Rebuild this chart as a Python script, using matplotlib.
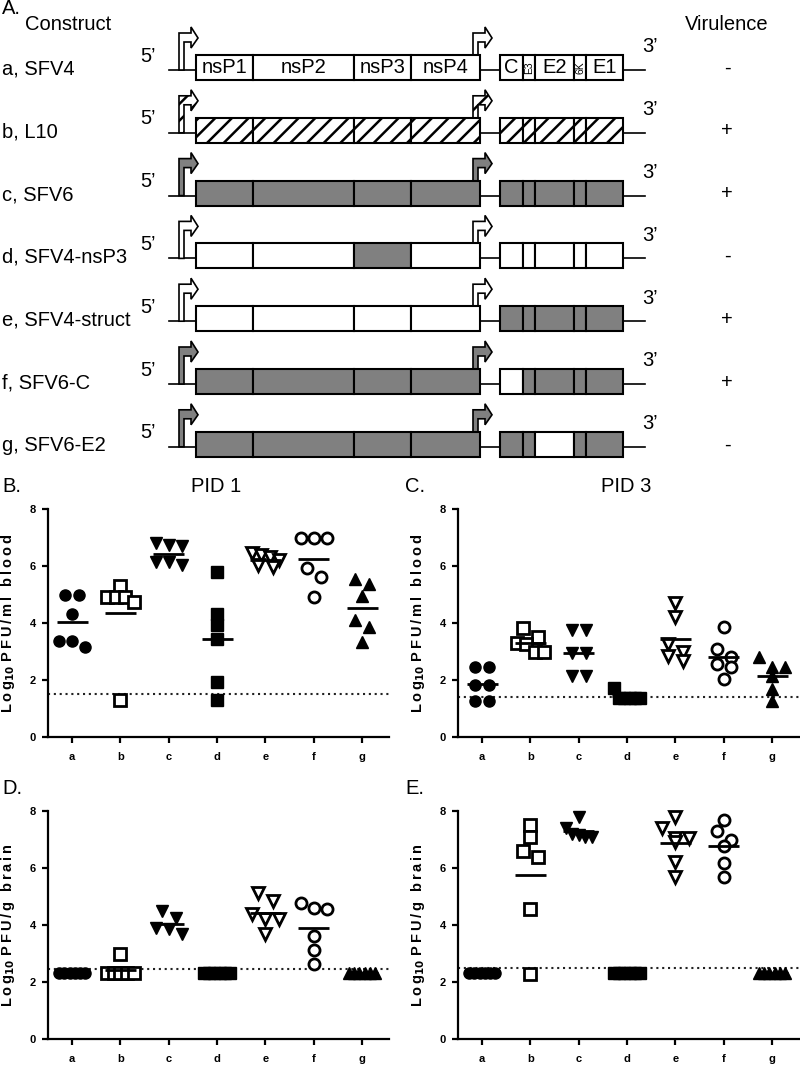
import numpy as np
import matplotlib.pyplot as plt
from matplotlib.patches import Rectangle, Polygon

plt.rcParams['font.family'] = ['Liberation Sans', 'DejaVu Sans']
plt.rcParams['hatch.linewidth'] = 1.8

# ---------------- panel A: construct schematics ----------------
constructs = ['a, SFV4', 'b, L10', 'c, SFV6', 'd, SFV4-nsP3',
              'e, SFV4-struct', 'f, SFV6-C', 'g, SFV6-E2']
virulence = ['-', '+', '+', '-', '+', '+', '-']
ns_genes = ['nsP1', 'nsP2', 'nsP3', 'nsP4']
ns_len = [57, 101, 57, 69]
st_genes = ['C', 'E3', 'E2', '6K', 'E1']
st_len = [23, 12, 39, 12, 37]
# per construct: nsP1-4, C, E3, E2, 6K, E1, 5' promoter, subgenomic promoter
# w = SFV4 (white), g = SFV6 (grey), h = L10 (hatched)
fills = ['wwwwwwwwwww', 'hhhhhhhhhhh', 'ggggggggggg', 'wwgwwwwwwww',
         'wwwwgggggww', 'ggggwgggggg', 'ggggggwgggg']

# ---------------- panels B-E: titres ----------------
groups = ['a', 'b', 'c', 'd', 'e', 'f', 'g']
markers = ['o', 's', 'v', 's', 'v', 'o', '^']
filled = [True, False, True, True, False, False, True]

blood_pid1 = [[4.98, 4.98, 4.33, 3.36, 3.36, 3.15],
              [5.3, 4.9, 4.9, 4.9, 4.75, 1.3],
              [6.8, 6.75, 6.7, 6.15, 6.15, 6.05],
              [5.78, 4.3, 3.92, 3.44, 1.93, 1.31],
              [6.45, 6.4, 6.3, 6.2, 6.05, 5.95],
              [7.0, 7.0, 7.0, 5.93, 5.6, 4.92],
              [5.54, 5.37, 4.95, 4.12, 3.86, 3.33]]
blood_pid3 = [[2.44, 2.44, 1.82, 1.82, 1.28, 1.28],
              [3.83, 3.5, 3.3, 3.25, 3.0, 3.0],
              [3.75, 3.75, 2.93, 2.93, 2.15, 2.15],
              [1.73, 1.38, 1.38, 1.38, 1.38, 1.38],
              [4.7, 4.2, 3.25, 3.0, 2.85, 2.65],
              [3.86, 3.09, 2.82, 2.56, 2.46, 2.02],
              [2.82, 2.46, 2.46, 2.14, 1.67, 1.28]]
brain_pid1 = [[2.3] * 6,
              [3.0, 2.3, 2.3, 2.3, 2.3, 2.3],
              [4.5, 4.25, 3.9, 3.85, 3.7],
              [2.3] * 6,
              [5.13, 4.85, 4.4, 4.2, 4.2, 3.7],
              [4.78, 4.58, 4.56, 3.61, 3.14, 2.63],
              [2.3] * 6]
brain_pid3 = [[2.3] * 6,
              [7.5, 7.1, 6.58, 6.4, 4.56, 2.29],
              [7.8, 7.4, 7.2, 7.15, 7.1, 7.1],
              [2.3] * 6,
              [7.8, 7.4, 7.05, 7.05, 6.9, 6.2, 5.7],
              [7.7, 7.29, 6.99, 6.78, 6.16, 5.69],
              [2.3] * 6]
lod = [1.5, 1.4, 2.45, 2.5]

W, H = 800, 1066
fig = plt.figure(figsize=(W / 100, H / 100), dpi=100)
top = fig.add_axes([0, 0, 1, 1])
top.set_xlim(0, W)
top.set_ylim(H, 0)
top.axis('off')

face = {'w': 'white', 'g': '#808080', 'h': 'white'}
FS = 14.5


def promoter(x0, y, code, z):
    pts = [(x0, y), (x0, y - 37), (x0 + 12, y - 37), (x0 + 12, y - 43),
           (x0 + 19, y - 32), (x0 + 12, y - 22), (x0 + 12, y - 28),
           (x0 + 5, y - 28), (x0 + 5, y)]
    top.add_patch(Polygon(pts, closed=True, fc=face[code], ec='black', lw=1.2,
                          hatch='//' if code == 'h' else None, zorder=z))


x_ns, x_st = 196, 500
for i, name in enumerate(constructs):
    y = 70 + i * 62.8
    f = fills[i]
    top.plot([169, 645], [y, y], color='black', lw=1.2, zorder=1)
    promoter(179, y, f[9], 3)
    promoter(473, y, f[10], 1.5)
    segs = list(zip(ns_genes, ns_len, f[:4], [x_ns] * 4)) + \
        list(zip(st_genes, st_len, f[4:9], [x_st] * 5))
    pos = {x_ns: x_ns, x_st: x_st}
    for g, ln, c, start in segs:
        x = pos[start]
        top.add_patch(Rectangle((x, y - 15), ln, 25, fc=face[c], ec='black',
                                lw=1.5, hatch='//' if c == 'h' else None, zorder=2))
        if i == 0:
            small = g in ('E3', '6K')
            top.text(x + ln / 2 + (0.5 if small else 0), y - 2.5, g,
                     ha='center', va='center',
                     fontsize=7.5 if small else FS,
                     rotation=90 if small else 0, zorder=4)
        pos[start] = x + ln
    top.text(2, y - 1, name, ha='left', va='center', fontsize=FS)
    top.text(148, y - 14, "5\u2019", ha='center', va='center', fontsize=FS)
    top.text(650, y - 23, "3\u2019", ha='center', va='center', fontsize=FS)
    top.text(727, y - 2, virulence[i], ha='center', va='center', fontsize=FS)

top.text(2, 9, 'A.', ha='left', va='center', fontsize=FS)
top.text(25, 24, 'Construct', ha='left', va='center', fontsize=FS)
top.text(727, 24, 'Virulence', ha='center', va='center', fontsize=FS)


def spread(vals, row_h=0.36, step=0.3, max_w=0.55):
    vals = np.asarray(vals, float)
    order = np.argsort(-vals, kind='stable')
    xs = np.zeros(len(vals))
    rows = []
    for k in order:
        if rows and rows[-1][0] - vals[k] < row_h:
            rows[-1][1].append(k)
        else:
            rows.append([vals[k], [k]])
    for _, idx in rows:
        n = len(idx)
        if n > 1:
            s = min(step, max_w / (n - 1))
            xs[idx] = (np.arange(n) - (n - 1) / 2) * s
    return xs


def spaced(s):
    return '\u2009'.join(s)


def panel(left_px, top_px, data, unit, lod_y, tag, title=None):
    ax = fig.add_axes([left_px / W, 1 - (top_px + 228) / H, 340.7 / W, 228 / H])
    ax.set_xlim(0.5, 7.55)
    ax.set_ylim(0, 8)
    for s in ('top', 'right'):
        ax.spines[s].set_visible(False)
    for s in ('left', 'bottom'):
        ax.spines[s].set_linewidth(1.6)
    ax.axhline(lod_y, color='#222222', lw=1.5, ls=(0, (1, 1.8)), zorder=1)
    for j, vals in enumerate(data):
        x = j + 1 + spread(vals)
        ms = 9 if markers[j] in ('v', '^') else 8
        if filled[j]:
            ax.plot(x, vals, ls='none', marker=markers[j], ms=ms, mfc='black',
                    mec='black', mew=1, zorder=2, clip_on=False)
        else:
            ax.plot(x, vals, ls='none', marker=markers[j], ms=ms, mfc='white',
                    mec='black', mew=2, zorder=2, clip_on=False)
        ax.hlines(np.mean(vals), j + 1 - 0.32, j + 1 + 0.32, color='black',
                  lw=2, zorder=3)
    ax.set_xticks(range(1, 8))
    ax.set_xticklabels(groups, fontweight='bold', fontsize=8)
    ax.set_yticks([0, 2, 4, 6, 8])
    ax.set_yticklabels(['0', '2', '4', '6', '8'], fontweight='bold', fontsize=8)
    ax.tick_params(width=1.6, length=4.5, pad=4)
    ax.tick_params(axis='x', pad=6)
    ylabel = spaced('Log') + r'$_{\mathbf{10}}$ ' + spaced('PFU/' + unit)
    ax.set_ylabel(ylabel, fontweight='bold', fontsize=10.5, labelpad=9)
    top.text(left_px - 46 if left_px < 100 else left_px - 53, top_px - 22,
             tag, ha='left', va='center', fontsize=14.5)
    if title:
        top.text(left_px + 168, top_px - 22, title, ha='center', va='center',
                 fontsize=14.5)
    return ax


panel(48, 509, blood_pid1, 'ml blood', lod[0], 'B.', 'PID 1')
panel(458, 509, blood_pid3, 'ml blood', lod[1], 'C.', 'PID 3')
panel(48, 811, brain_pid1, 'g brain', lod[2], 'D.')
panel(458, 811, brain_pid3, 'g brain', lod[3], 'E.')

fig.savefig('out.png', dpi=100)
